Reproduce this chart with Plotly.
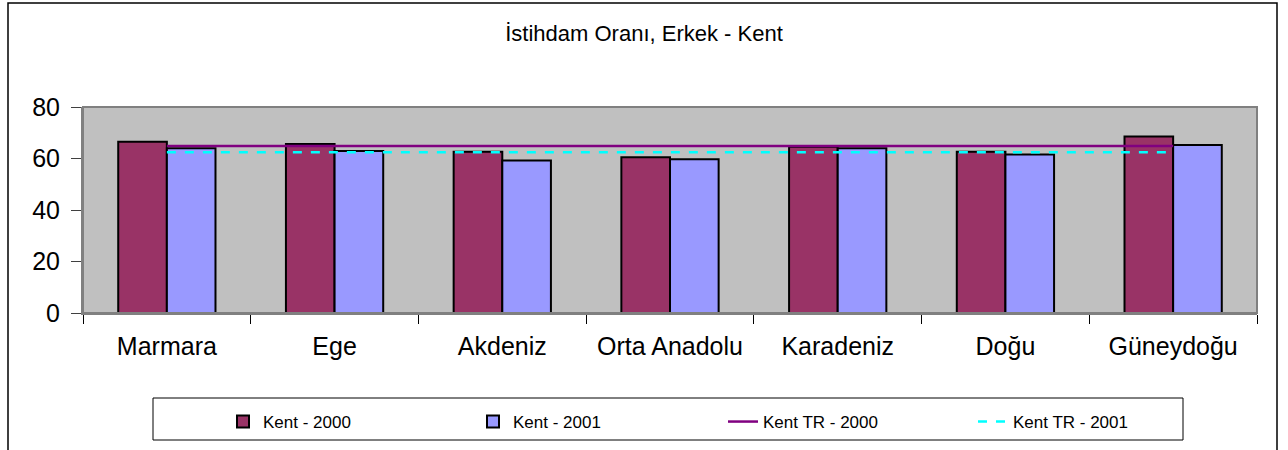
import plotly.graph_objects as go

categories = ["Marmara", "Ege", "Akdeniz", "Orta Anadolu", "Karadeniz", "Doğu", "Güneydoğu"]
kent_2000 = [66.5, 65.6, 62.6, 60.5, 64.6, 62.6, 68.5]
kent_2001 = [64.0, 62.9, 59.2, 59.7, 64.0, 61.6, 65.2]
tr_2000 = [64.9] * len(categories)
tr_2001 = [62.4] * len(categories)
y_ticks = [0, 20, 40, 60, 80]

FONT = "Liberation Sans, Arial, sans-serif"

fig = go.Figure()
fig.add_trace(go.Bar(x=categories, y=kent_2000, name="Kent - 2000",
                     marker=dict(color="#993366", line=dict(color="black", width=2))))
fig.add_trace(go.Bar(x=categories, y=kent_2001, name="Kent - 2001",
                     marker=dict(color="#9999FF", line=dict(color="black", width=2))))
fig.add_trace(go.Scatter(x=categories, y=tr_2000, name="Kent TR - 2000", mode="lines",
                         line=dict(color="#800080", width=2.5)))
fig.add_trace(go.Scatter(x=categories, y=tr_2001, name="Kent TR - 2001", mode="lines",
                         line=dict(color="#00FFFF", width=2.5, dash="dash")))

W, H = 1288, 450
L, R, T, B = 83, 31, 107, 137
pw, ph = W - L - R, H - T - B

def px_x(x):
    return (x - L) / pw

def px_y(y):
    return (H - B - y) / ph

fig.update_layout(
    width=W, height=H,
    margin=dict(l=L, r=R, t=T, b=B, autoexpand=False),
    paper_bgcolor="white",
    plot_bgcolor="#C0C0C0",
    barmode="group",
    bargap=0.42,
    bargroupgap=0,
    font=dict(family=FONT, color="black"),
    title=dict(text="İstihdam Oranı, Erkek - Kent", x=0.5, xanchor="center",
               y=1 - 33 / H, yanchor="middle", font=dict(size=22, family=FONT)),
    xaxis=dict(showgrid=False, ticks="outside", tickson="boundaries", ticklen=9,
               tickcolor="black", showline=True, linecolor="#808080", linewidth=2,
               tickfont=dict(size=25), ticklabelstandoff=10, mirror=False),
    yaxis=dict(range=[0, 80], tickvals=y_ticks, showgrid=False, ticks="outside",
               ticklen=10, tickcolor="#404040", showline=True, linecolor="#808080",
               linewidth=2, tickfont=dict(size=25), ticklabelstandoff=6, zeroline=False),
    legend=dict(orientation="h", x=px_x(223), xanchor="left", y=px_y(404), yanchor="top",
                borderwidth=0, font=dict(size=17), itemwidth=30,
                entrywidth=205, entrywidthmode="pixels", bgcolor="rgba(0,0,0,0)"),
    showlegend=True,
)

shapes = [
    dict(type="rect", xref="paper", yref="paper", x0=0, x1=1, y0=0, y1=1,
         line=dict(color="#808080", width=2), layer="above"),
    # outer chart border
    dict(type="rect", xref="paper", yref="paper", x0=px_x(8), x1=px_x(1277),
         y0=px_y(455), y1=px_y(3), line=dict(color="black", width=1.5)),
    # legend frame
    dict(type="rect", xref="paper", yref="paper", x0=px_x(153), x1=px_x(1183),
         y0=px_y(440), y1=px_y(398), line=dict(color="black", width=1)),
]
fig.update_layout(shapes=shapes)

fig.write_html("out.html", config={"displayModeBar": False},
               post_script="document.body.style.margin='0';")
